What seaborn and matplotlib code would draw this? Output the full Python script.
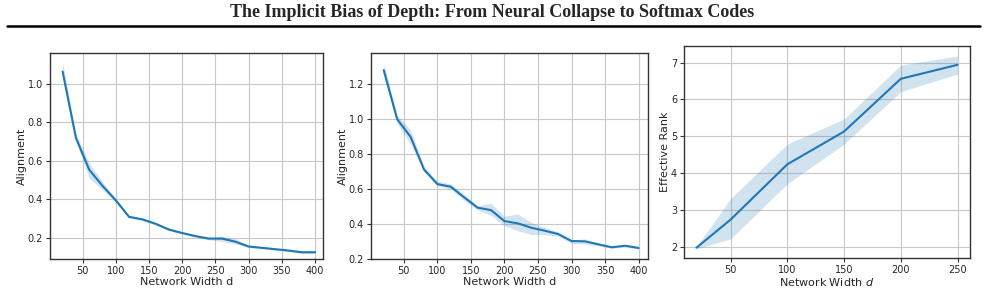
import numpy as np
import pandas as pd
import matplotlib
matplotlib.use("Agg")
import matplotlib.pyplot as plt
import seaborn as sns

title = "The Implicit Bias of Depth: From Neural Collapse to Softmax Codes"

# Panel 1
w1 = [20, 40, 60, 80, 100, 120, 140, 160, 180, 200, 220, 240, 260, 280, 300, 320, 340, 360, 380, 400]
a1 = [1.064, 0.72, 0.554, 0.47, 0.395, 0.309, 0.296, 0.273, 0.243, 0.225, 0.209, 0.196, 0.196, 0.18, 0.155, 0.148, 0.141, 0.134, 0.125, 0.125]
a1_lo = [1.03, 0.70, 0.51, 0.45, 0.385, 0.303, 0.288, 0.266, 0.237, 0.219, 0.203, 0.190, 0.182, 0.168, 0.150, 0.143, 0.136, 0.129, 0.119, 0.119]
a1_hi = [1.11, 0.74, 0.59, 0.49, 0.405, 0.315, 0.304, 0.280, 0.249, 0.231, 0.215, 0.202, 0.209, 0.195, 0.160, 0.153, 0.146, 0.139, 0.131, 0.131]

# Panel 2
w2 = [20, 40, 60, 80, 100, 120, 140, 160, 180, 200, 220, 240, 260, 280, 300, 320, 340, 360, 380, 400]
a2 = [1.282, 1.001, 0.90, 0.713, 0.629, 0.614, 0.553, 0.494, 0.48, 0.417, 0.404, 0.379, 0.362, 0.343, 0.303, 0.301, 0.284, 0.267, 0.276, 0.263]
a2_lo = [1.25, 0.975, 0.86, 0.70, 0.62, 0.600, 0.535, 0.480, 0.450, 0.390, 0.362, 0.340, 0.340, 0.330, 0.290, 0.285, 0.275, 0.262, 0.268, 0.256]
a2_hi = [1.32, 1.025, 0.94, 0.73, 0.645, 0.630, 0.570, 0.505, 0.519, 0.445, 0.458, 0.410, 0.380, 0.355, 0.310, 0.315, 0.292, 0.272, 0.284, 0.270]

# Panel 3
w3 = [20, 50, 100, 150, 200, 250]
r3 = [1.98, 2.74, 4.24, 5.13, 6.56, 6.94]
r3_lo = [1.95, 2.22, 3.71, 4.79, 6.21, 6.69]
r3_hi = [2.01, 3.31, 4.79, 5.47, 6.93, 7.18]


def long_frame(x, mid, lo, hi):
    return pd.DataFrame({
        "x": list(x) * 3,
        "y": list(lo) + list(mid) + list(hi),
    })


sns.set_style("whitegrid", {
    "axes.edgecolor": "#333333",
    "grid.color": "#c8c8c8",
    "axes.linewidth": 1.0,
})
plt.rcParams["font.family"] = ["DejaVu Sans"]

fig = plt.figure(figsize=(9.85, 2.92), dpi=100)
ax1 = fig.add_axes([50 / 985, 1 - 259 / 292, 273 / 985, 206 / 292])
ax2 = fig.add_axes([371 / 985, 1 - 259 / 292, 277 / 985, 206 / 292])
ax3 = fig.add_axes([684 / 985, 1 - 258 / 292, 286 / 985, 212 / 292])

panels = [
    (ax1, long_frame(w1, a1, a1_lo, a1_hi), "Alignment", "Network Width d"),
    (ax2, long_frame(w2, a2, a2_lo, a2_hi), "Alignment", "Network Width d"),
    (ax3, long_frame(w3, r3, r3_lo, r3_hi), "Effective Rank", "Network Width $d$"),
]

for ax, df, ylab, xlab in panels:
    sns.lineplot(data=df, x="x", y="y", ax=ax, estimator="median",
                 errorbar=("pi", 100), color="#1f77b4", linewidth=1.5,
                 err_kws={"alpha": 0.2, "linewidth": 0})
    ax.set_xlabel(xlab, fontsize=8, labelpad=1)
    ax.set_ylabel(ylab, fontsize=8, labelpad=0.5)
    ax.tick_params(axis="both", labelsize=7, length=3, width=0.8,
                   color="#333333", pad=2, bottom=True, left=True)
    ax.grid(True, linewidth=0.8)
    for s in ax.spines.values():
        s.set_edgecolor("#333333")
        s.set_linewidth(1.0)

ax1.set_xticks([50, 100, 150, 200, 250, 300, 350, 400])
ax1.set_yticks([0.2, 0.4, 0.6, 0.8, 1.0])
ax1.set_ylim(0.09, 1.16)
ax1.set_xlim(1, 412)

ax2.set_xticks([50, 100, 150, 200, 250, 300, 350, 400])
ax2.set_yticks([0.2, 0.4, 0.6, 0.8, 1.0, 1.2])
ax2.set_ylim(0.2, 1.38)
ax2.set_xlim(1, 414)

ax3.set_xticks([50, 100, 150, 200, 250])
ax3.set_yticks([2, 3, 4, 5, 6, 7])
ax3.set_ylim(1.7, 7.45)
ax3.set_xlim(9, 261)

fig.text(0.5, 1 - 12.5 / 292, title, ha="center", va="center",
         fontsize=13, fontweight="bold", family=["Liberation Serif"])
fig.add_artist(plt.Line2D([7 / 985, 980 / 985], [1 - 25.5 / 292, 1 - 25.5 / 292],
                          color="black", linewidth=1.8, transform=fig.transFigure))

fig.savefig("out.png", dpi=100)
